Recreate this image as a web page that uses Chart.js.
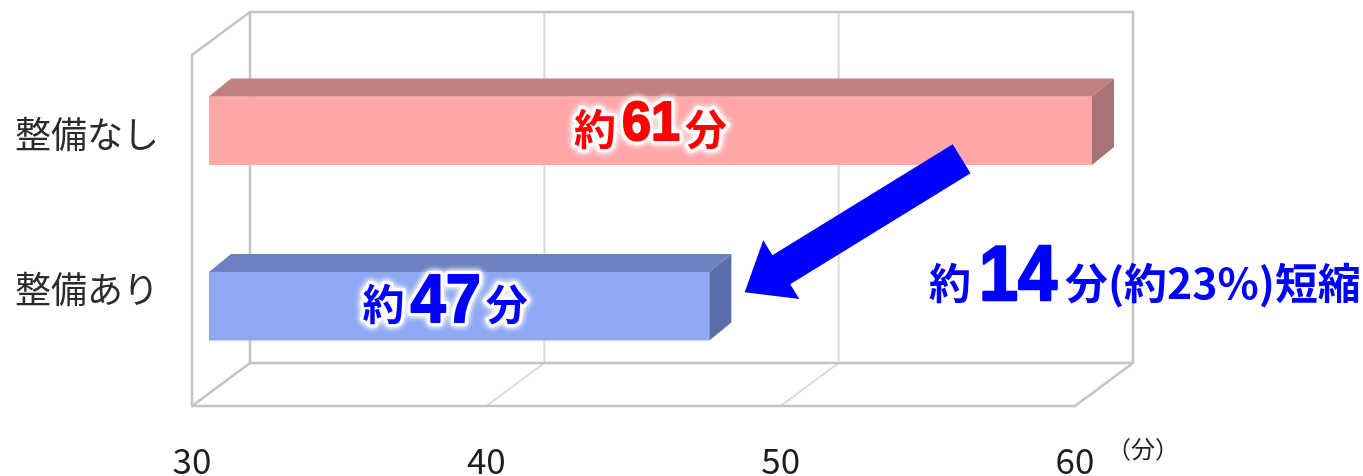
<!DOCTYPE html>
<html><head><meta charset="utf-8">
<script src="https://cdn.jsdelivr.net/npm/chart.js@4.4.0/dist/chart.umd.min.js"></script>
<style>html,body{margin:0;padding:0;background:#fff}#wrap{width:1363px;height:476px;position:relative}</style>
</head><body><div id="wrap"><canvas id="c"></canvas></div>
<script>
// ---- data ----
const categories = ['整備なし', '整備あり'];
const minutes = [61, 47];
const xTicks = [30, 40, 50, 60];
const xMin = 30, xMax = 60;
const unitLabel = '（分）';
const reduction = minutes[0] - minutes[1];
const reductionPct = Math.round(reduction / minutes[0] * 100);

// ---- styles ----
const barFront = ['#FFA7A9', '#8EA8F4'];
const barTop = ['#C08081', '#6C80C2'];
const barSide = ['#A87376', '#5A6CAA'];
const valueColors = ['#FF0000', '#0000FF'];
const FRONT = {dx: -17, dy: 12};
const BACK = {dx: 41, dy: -31};
const DEPTH = {dx: 22, dy: -18};
const CJK = '"Noto Sans CJK JP", "Noto Sans", sans-serif';
const DIG = '"Liberation Sans", Arial, sans-serif';

function seg(ctx, x1, y1, x2, y2) { ctx.beginPath(); ctx.moveTo(x1, y1); ctx.lineTo(x2, y2); ctx.stroke(); }

const box3d = {
  id: 'box3d',
  beforeDatasetsDraw(chart) {
    const {ctx, chartArea: a, scales: {x}} = chart;
    const fl = a.left + FRONT.dx, fr = a.right + FRONT.dx, ft = a.top + FRONT.dy, fb = a.bottom + FRONT.dy;
    const bl = a.left + BACK.dx, br = a.right + BACK.dx, bt = a.top + BACK.dy, bb = a.bottom + BACK.dy;
    ctx.save();
    ctx.lineCap = 'round';
    ctx.strokeStyle = '#d9d9d9'; ctx.lineWidth = 2;
    xTicks.forEach(v => {
      if (v === xMin || v === xMax) return;
      const px = x.getPixelForValue(v);
      seg(ctx, px + BACK.dx, bt, px + BACK.dx, bb);
      seg(ctx, px + FRONT.dx, fb, px + BACK.dx, bb);
    });
    ctx.strokeStyle = '#c4c4c4'; ctx.lineWidth = 2.5;
    seg(ctx, bl, bt, br, bt);
    seg(ctx, br, bt, br, bb);
    seg(ctx, bl, bb, br, bb);
    seg(ctx, bl, bt, bl, bb);
    seg(ctx, fl, ft, fl, fb);
    seg(ctx, fl, ft, bl, bt);
    seg(ctx, fl, fb, bl, bb);
    seg(ctx, fr, fb, br, bb);
    seg(ctx, fl, fb, fr, fb);
    ctx.restore();
  },
  afterDatasetsDraw(chart) {
    const {ctx, chartArea: a} = chart;
    const meta = chart.getDatasetMeta(0);
    ctx.save();
    meta.data.forEach((el, i) => {
      const p = el.getProps(['x', 'y', 'base', 'height'], true);
      const right = Math.min(p.x, a.right);
      const left = Math.max(p.base, a.left);
      const top = p.y - p.height / 2, bottom = p.y + p.height / 2;
      ctx.fillStyle = barTop[i];
      ctx.beginPath();
      ctx.moveTo(left, top); ctx.lineTo(left + DEPTH.dx, top + DEPTH.dy);
      ctx.lineTo(right + DEPTH.dx, top + DEPTH.dy); ctx.lineTo(right, top); ctx.closePath(); ctx.fill();
      ctx.fillStyle = barSide[i];
      ctx.beginPath();
      ctx.moveTo(right, top); ctx.lineTo(right + DEPTH.dx, top + DEPTH.dy);
      ctx.lineTo(right + DEPTH.dx, bottom + DEPTH.dy); ctx.lineTo(right, bottom); ctx.closePath(); ctx.fill();
    });
    ctx.restore();
  },
  afterDraw(chart) {
    const {ctx, chartArea: a, scales: {x, y}} = chart;
    ctx.save();
    // category labels
    const catDy = [4, -17];
    ctx.fillStyle = '#2b2b2b';
    ctx.font = '36px ' + CJK;
    ctx.textAlign = 'left'; ctx.textBaseline = 'middle';
    categories.forEach((c, i) => ctx.fillText(c, 15, y.getPixelForValue(i) + catDy[i]));
    // x ticks on front floor edge
    ctx.font = '35px ' + CJK;
    ctx.fillStyle = '#1e1e1e';
    ctx.textAlign = 'center'; ctx.textBaseline = 'alphabetic';
    xTicks.forEach(v => ctx.fillText(String(v), x.getPixelForValue(v) + FRONT.dx, 474));
    ctx.font = '24px ' + CJK;
    ctx.textAlign = 'left'; ctx.textBaseline = 'middle';
    ctx.fillText(unitLabel, x.getPixelForValue(xMax) + FRONT.dx + 32, 449);

    // value labels with white glow
    const digSize = [56, 68];
    const digDy = [9, 16];
    const labelDx = [0, -14];
    const meta = chart.getDatasetMeta(0);
    meta.data.forEach((el, i) => {
      const p = el.getProps(['x', 'y', 'base'], true);
      const cx = (Math.max(p.base, a.left) + Math.min(p.x, a.right)) / 2 + labelDx[i];
      const parts = [
        {t: '約', f: 'bold 42px ' + CJK, dy: 14, sx: 1, gap: 6, heavy: 0},
        {t: String(minutes[i]), f: 'bold ' + digSize[i] + 'px ' + DIG, dy: digDy[i], sx: 0.93, gap: 5, heavy: 2},
        {t: '分', f: 'bold 42px ' + CJK, dy: 14, sx: 1, gap: 0, heavy: 0}
      ];
      drawParts(ctx, parts, cx, p.y, valueColors[i], true);
    });

    // arrow
    const yP = y.getPixelForValue(0), yB = y.getPixelForValue(1);
    const T = {x: x.getPixelForValue(55.57), y: yP + 28};
    const P = {x: x.getPixelForValue(48.2), y: yB - 14};
    const L = Math.hypot(P.x - T.x, P.y - T.y);
    const u = {x: (P.x - T.x) / L, y: (P.y - T.y) / L};
    const n = {x: -u.y, y: u.x};
    const w = 34, hw = 69, hl = 43;
    const H = {x: P.x - u.x * hl, y: P.y - u.y * hl};
    ctx.fillStyle = '#0000FF';
    ctx.beginPath();
    ctx.moveTo(T.x + n.x * w / 2, T.y + n.y * w / 2);
    ctx.lineTo(H.x + n.x * w / 2, H.y + n.y * w / 2);
    ctx.lineTo(H.x + n.x * hw / 2, H.y + n.y * hw / 2);
    ctx.lineTo(P.x, P.y);
    ctx.lineTo(H.x - n.x * hw / 2, H.y - n.y * hw / 2);
    ctx.lineTo(H.x - n.x * w / 2, H.y - n.y * w / 2);
    ctx.lineTo(T.x - n.x * w / 2, T.y - n.y * w / 2);
    ctx.closePath(); ctx.fill();

    // reduction annotation
    const ann = [
      {t: '約', f: 'bold 42px ' + CJK, dy: 0, sx: 1, gap: 8, heavy: 0},
      {t: String(reduction), f: 'bold 78px ' + DIG, dy: 1, sx: 0.9, gap: 8, heavy: 2.5},
      {t: '分(約' + reductionPct + '%)短縮', f: 'bold 42px ' + CJK, dy: 0, sx: 1.02, gap: 0, heavy: 0}
    ];
    drawPartsLeft(ctx, ann, 929, 299, '#0000FF', false);
    ctx.restore();
  }
};

function measureParts(ctx, parts) {
  let total = 0;
  parts.forEach(pt => { ctx.font = pt.f; pt.w = ctx.measureText(pt.t).width * pt.sx; total += pt.w + pt.gap; });
  return total;
}
function drawPartsLeft(ctx, parts, x0, baseY, color, glow) {
  measureParts(ctx, parts);
  let xx = x0;
  ctx.textAlign = 'left'; ctx.textBaseline = 'alphabetic';
  parts.forEach(pt => {
    ctx.save();
    ctx.font = pt.f;
    ctx.translate(xx, baseY + pt.dy);
    ctx.scale(pt.sx, 1);
    if (glow) {
      ctx.save();
      ctx.shadowColor = 'rgba(255,255,255,1)'; ctx.shadowBlur = 6;
      ctx.strokeStyle = '#ffffff'; ctx.lineWidth = 6 + pt.heavy; ctx.lineJoin = 'round';
      ctx.strokeText(pt.t, 0, 0);
      ctx.strokeText(pt.t, 0, 0);
      ctx.restore();
    }
    ctx.fillStyle = color;
    ctx.fillText(pt.t, 0, 0);
    if (pt.heavy) {
      ctx.strokeStyle = color; ctx.lineWidth = pt.heavy; ctx.lineJoin = 'round';
      ctx.strokeText(pt.t, 0, 0);
    }
    ctx.restore();
    xx += pt.w + pt.gap;
  });
}
function drawParts(ctx, parts, cx, cy, color, glow) {
  const total = measureParts(ctx, parts);
  drawPartsLeft(ctx, parts, cx - total / 2, cy, color, glow);
}

new Chart(document.getElementById('c'), {
  type: 'bar',
  data: {
    labels: categories,
    datasets: [{
      data: minutes,
      backgroundColor: barFront,
      borderWidth: 0,
      barPercentage: 0.39,
      categoryPercentage: 1,
      clip: 0
    }]
  },
  options: {
    indexAxis: 'y',
    responsive: true,
    maintainAspectRatio: false,
    animation: false,
    layout: {padding: {left: 209, right: 271, top: 43, bottom: 82}},
    plugins: {legend: {display: false}, tooltip: {enabled: false}},
    scales: {
      x: {min: xMin, max: xMax, display: false},
      y: {display: false}
    }
  },
  plugins: [box3d]
});
</script></body></html>
